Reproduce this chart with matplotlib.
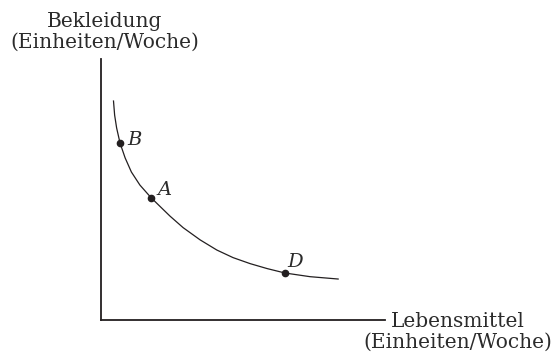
import matplotlib
matplotlib.use("Agg")
import matplotlib.pyplot as plt

# indifference curve (units: 0..10 on both axes)
curve_x = [0.44, 0.48, 0.55, 0.67, 0.85, 1.07, 1.37, 1.76, 2.08, 2.43, 2.89,
           3.49, 4.08, 4.65, 5.25, 5.85, 6.48, 7.36, 8.35]
curve_y = [8.39, 7.85, 7.36, 6.78, 6.21, 5.67, 5.17, 4.69, 4.35, 3.98, 3.54,
           3.07, 2.68, 2.39, 2.16, 1.97, 1.80, 1.66, 1.57]

point_names = ["B", "A", "D"]
point_x = [0.67, 1.76, 6.48]
point_y = [6.78, 4.69, 1.80]

x_label = "Lebensmittel\n(Einheiten/Woche)"
y_label = "Bekleidung\n(Einheiten/Woche)"

INK = "#231f20"
TXT = "#2b2b2b"
plt.rcParams["font.family"] = ["DejaVu Serif"]

fig = plt.figure(figsize=(5.56, 3.56), dpi=100)
ax = fig.add_axes([101 / 556, 36 / 356, 284 / 556, 261 / 356])
ax.set_xlim(0, 10)
ax.set_ylim(0, 10)
for side in ("top", "right"):
    ax.spines[side].set_visible(False)
for side in ("left", "bottom"):
    ax.spines[side].set_linewidth(1.3)
    ax.spines[side].set_color(INK)
ax.set_xticks([])
ax.set_yticks([])
ax.patch.set_visible(False)

ax.plot(curve_x, curve_y, color=INK, lw=0.9, solid_joinstyle="round")
ax.plot(point_x, point_y, "o", color=INK, ms=4.5, ls="none")

# label offsets from the dots, in pixels
offsets = {"B": (7, 3), "A": (7, 8), "D": (2, 11.5)}
for name, px, py in zip(point_names, point_x, point_y):
    ax.annotate(name, (px, py), xytext=offsets[name], textcoords="offset pixels",
                ha="left", va="center", fontsize=14, style="italic", color=TXT)

fig.text(104.5 / 556, 308 / 356, y_label, ha="center", va="baseline",
         multialignment="center", fontsize=14.5, color=TXT, linespacing=1.14)
fig.text(457.5 / 556, 8 / 356, x_label, ha="center", va="baseline",
         multialignment="center", fontsize=14.5, color=TXT, linespacing=1.14)

fig.savefig("out.png", dpi=100)
